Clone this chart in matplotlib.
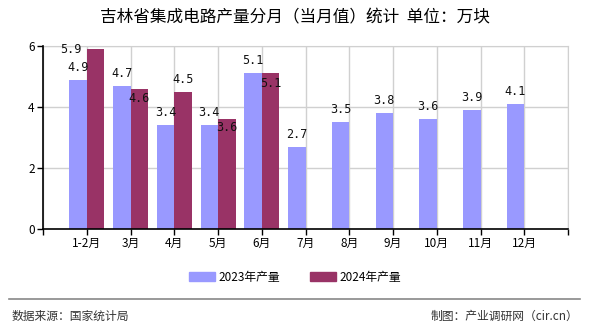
import matplotlib
matplotlib.use("Agg")
import matplotlib.pyplot as plt
from matplotlib.patches import Patch

plt.rcParams['font.family'] = ['Noto Sans CJK SC', 'DejaVu Sans']

categories = ["1-2月", "3月", "4月", "5月", "6月", "7月", "8月", "9月", "10月", "11月", "12月"]
values_2023 = [4.9, 4.7, 3.4, 3.4, 5.1, 2.7, 3.5, 3.8, 3.6, 3.9, 4.1]
values_2024 = [5.9, 4.6, 4.5, 3.6, 5.1]
series_names = ["2023年产量", "2024年产量"]
yticks = [0, 2, 4, 6]

c2023 = "#9999FF"
c2024 = "#993366"

fig = plt.figure(figsize=(5.9, 3.3), dpi=100)
ax = fig.add_axes([43/590, 1-229/330, (568-43)/590, (229-46)/330])

w = 0.4
x23 = list(range(len(values_2023)))
x24 = list(range(len(values_2024)))
ax.bar([x - w/2 for x in x23], values_2023, width=w, color=c2023, zorder=3)
ax.bar([x + w/2 for x in x24], values_2024, width=w, color=c2024, zorder=3)

lab_font = dict(family='DejaVu Sans Mono', fontsize=8.5, color='#111111', zorder=5)
for x, v in zip(x23, values_2023):
    ax.annotate(f"{v:.1f}", (x - w/2, v), xytext=(0, 9), textcoords='offset points',
                ha='center', va='center', **lab_font)
# offsets (points) for 2024 labels to avoid collisions
off24 = [(-18, 0), (0, -7), (0, 9), (0, -6), (0, -7)]
for x, v, (dx, dy) in zip(x24, values_2024, off24):
    ax.annotate(f"{v:.1f}", (x + w/2, v), xytext=(dx, dy), textcoords='offset points',
                ha='center', va='center', annotation_clip=False, **lab_font)

ax.set_xlim(-1, len(categories))
ax.set_ylim(0, 6)
ax.set_yticks(yticks)
ax.set_yticklabels([str(t) for t in yticks], fontsize=8.5)
ax.set_xticks(list(range(-1, len(categories) + 1)))
ax.set_xticklabels([""] + categories + [""], fontsize=8.5)
ax.tick_params(axis='both', length=4, width=1, color='black', pad=2)

ax.grid(True, color='#D0D0D0', linewidth=1, zorder=0)
ax.set_axisbelow(True)
for s in ['top', 'right']:
    ax.spines[s].set_color('#D0D0D0')
for s in ['left', 'bottom']:
    ax.spines[s].set_color('black')
    ax.spines[s].set_linewidth(1.2)
    ax.spines[s].set_zorder(6)

fig.text(0.5, 1-18/330, "吉林省集成电路产量分月（当月值）统计  单位：万块",
         ha='center', va='center', fontsize=12)

handles = [Patch(color=c2023, label=series_names[0]), Patch(color=c2024, label=series_names[1])]
fig.legend(handles=handles, loc='center', bbox_to_anchor=(0.5, 1-277/330), ncol=2,
           frameon=False, fontsize=8.5, handlelength=2.2, handleheight=0.8, columnspacing=2.5,
           handletextpad=0.3)

fig.add_artist(plt.Line2D([9/590, 580/590], [1-299/330, 1-299/330], color='#888888', linewidth=1.2))
fig.text(12/590, 1-316/330, "数据来源：国家统计局", ha='left', va='center', fontsize=8.5, color='#333333')
fig.text(578/590, 1-316/330, "制图：产业调研网（cir.cn）", ha='right', va='center', fontsize=8.5, color='#333333')

fig.savefig("out.png", dpi=100)
